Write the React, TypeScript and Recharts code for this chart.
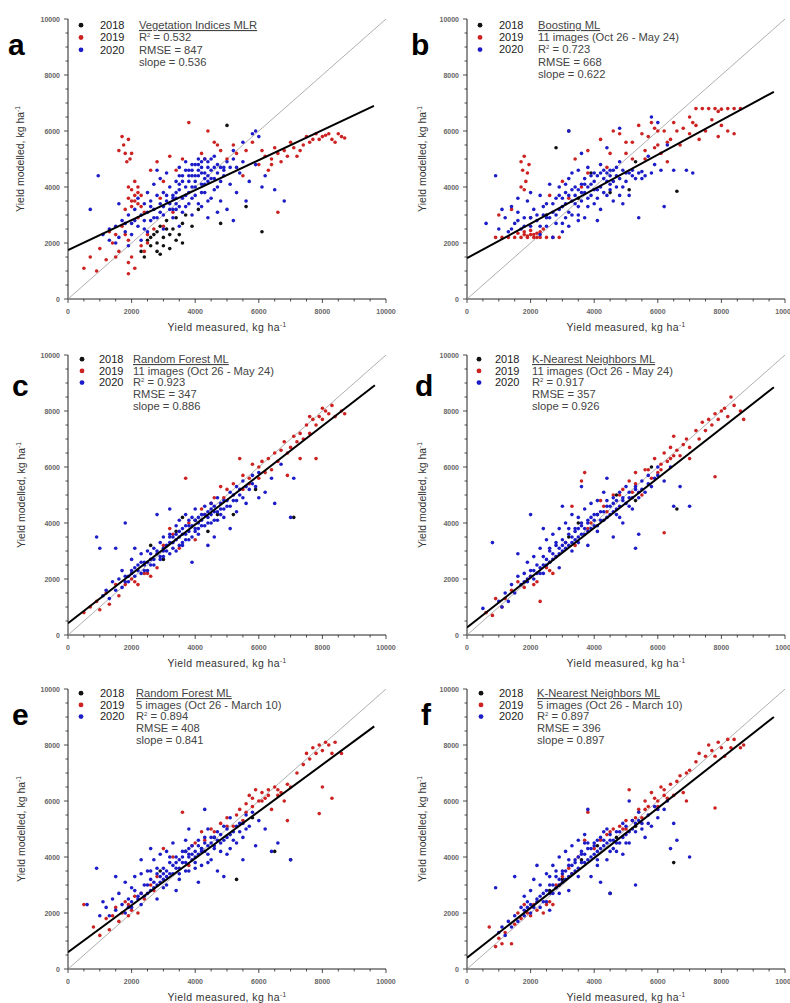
import React from 'react';
import { ScatterChart, Scatter, XAxis, YAxis } from 'recharts';

type P = [number, number];

// ---- panel a: Vegetation Indices MLR ----
const blackA: P[] = [[2300,1700],[2500,2100],[2600,1900],[2700,2300],[2800,2000],[2900,2600],[2900,1600],[3000,2200],[3100,2800],[3200,1800],[3300,2500],[3400,2900],[3500,2300],[3600,2700],[3700,3000],[2400,1500],[3900,2600],[4100,3200],[5000,6200],[6100,2400],[4800,2700],[5600,3300],[2600,2200],[2800,2400],[3000,1900],[3200,2300],[3400,2100],[3600,2000],[2800,1700],[3100,2500]];
const redA: P[] = [[1600,5300],[1700,5800],[1750,5500],[1800,5200],[1900,5700],[1950,5000],[1850,4900],[2000,5200],[1900,3600],[2000,3900],[2100,3500],[2200,4000],[2000,3300],[2300,3700],[2100,4200],[1800,3200],[2400,3100],[2200,2900],[500,1100],[700,1500],[900,1000],[1000,1800],[1200,1400],[1400,2000],[1600,1700],[1800,2300],[1900,1300],[2000,1500],[2100,1100],[1900,900],[2300,1900],[2500,2300],[1300,2400],[1500,2300],[2600,4600],[2800,4900],[3000,4200],[3200,5100],[3400,4600],[3600,5000],[3800,6300],[4400,6000],[4600,5600],[4800,5300],[5000,5000],[5200,5500],[2900,3600],[3300,3100],[6000,4800],[6200,5100],[6400,5000],[6500,5400],[6700,4900],[6800,5300],[7000,5600],[7200,5100],[7400,5500],[7500,5800],[7600,5600],[7800,5900],[7900,5700],[8000,5800],[8100,5850],[8300,5700],[8500,5900],[8700,5750],[6600,3100],[6300,4600],[5500,4400],[5800,5600],[1900,4000],[2100,3700],[2000,3500],[2200,3800],[2300,3300],[2200,3400],[2500,2000],[1700,2600],[1500,1500],[1900,2100],[2400,1700],[2700,2500],[3000,2600],[4200,5200],[4300,5000],[4700,5500],[5300,5200],[5600,5300],[6100,5300],[6400,4800],[6600,5200],[6900,5100],[7100,5400],[7300,5300],[7700,5700],[8200,5900],[8400,5600],[8600,5800]];
const blueA: P[] = [[1100,2300],[1300,2100],[1500,2600],[1600,2200],[1700,2800],[1800,2400],[1900,3000],[2000,2700],[2100,3200],[2200,2600],[2200,3600],[2300,3000],[2400,3400],[2400,2500],[2500,3800],[2500,3100],[2600,2800],[2600,3500],[2700,4100],[2700,3200],[2800,2900],[2800,3700],[2900,3400],[2900,4300],[3000,3000],[3000,3800],[3100,3500],[3100,4500],[3200,3200],[3200,4000],[3300,3700],[3300,2900],[3400,4200],[3400,3400],[3500,3900],[3500,4700],[3600,3100],[3600,4400],[3700,3700],[3700,4900],[3800,4200],[3800,3400],[3900,4600],[3900,4000],[4000,4800],[4000,3700],[4100,4400],[4100,5000],[4200,4100],[4200,4700],[4300,3800],[4300,4500],[4400,4900],[4400,4200],[4500,3600],[4500,4600],[4600,4300],[4600,5100],[4700,4000],[4800,4700],[4800,3500],[4900,4400],[5000,3200],[5000,4900],[5100,4100],[5200,5300],[5300,3800],[5400,4500],[5500,5600],[5600,3500],[5700,4200],[5800,5900],[5900,6000],[6000,5800],[5900,4800],[6200,4400],[6500,3900],[4400,2900],[4700,3100],[3900,3000],[700,3200],[950,4400],[1600,3400],[2800,4600],[6100,4000],[6800,3500],[5200,2800],[3500,2600],[4200,3300],[3000,2500],[1900,1900],[2300,2100],[3300,3600],[3400,3800],[3500,4100],[3600,3600],[3700,4000],[3800,4400],[3900,4800],[4000,4200],[4100,4600],[4200,4900],[4300,4300],[4400,4700],[4500,5000],[4600,4700],[4700,4500],[4800,4200],[4900,4700],[3600,4200],[3700,3300],[3800,3800],[3900,3600],[4000,4000],[4100,3400],[4200,3800],[4300,4100],[4400,3500],[4500,4300],[4600,3900],[3000,3300],[3100,3700],[3200,3400],[3300,3200],[3400,3600],[2900,3100],[2700,2900],[2600,3300],[3500,3300],[4000,4400],[4200,4500],[4400,4400],[3800,4600],[4300,5000],[4100,4800],[3700,4600],[3500,4400],[3900,4400],[4700,4800],[5100,4700],[5300,4700],[5500,4900],[2400,2800],[2500,2400],[2100,2800],[2000,2300],[1800,2700],[1500,2000],[1300,2500],[4900,4600],[5200,5000],[3400,3200]];
const fitA: P[] = [[0,1750],[9620,6900]];

// ---- panel b: Boosting ML, 11 images ----
const blackB: P[] = [[2800,5400],[6600,3850],[3200,6000],[2000,2900],[4500,3800],[3900,4500],[5300,4900],[5100,3900],[2500,3000],[3500,3600]];
const redB: P[] = [[900,2200],[1100,2200],[1300,2200],[1500,2200],[1700,2200],[1900,2250],[2100,2200],[2300,2200],[2500,2200],[2700,2200],[2900,2200],[1800,2400],[2000,2450],[2200,2350],[1600,2350],[2400,2500],[1700,4900],[1750,4600],[1800,5100],[1850,4200],[1700,4000],[1900,4500],[1800,3900],[1950,4800],[1000,3000],[1400,3200],[2600,3700],[3000,4200],[3400,5000],[3800,5300],[4200,5700],[4600,6000],[4800,5900],[5000,5200],[5200,5600],[5400,6200],[5500,5900],[5700,5800],[5900,6100],[6000,5500],[6200,6000],[6400,5700],[6500,6300],[6700,5500],[6800,6100],[7000,5900],[7200,6200],[7300,5700],[7500,6000],[7700,6400],[7900,5800],[8200,6000],[8400,5900],[7000,6500],[6300,4900],[5600,5000],[4400,4700],[3600,4000],[3200,3600],[5900,5400],[7200,6800],[7400,6800],[7600,6800],[7800,6800],[8000,6780],[8200,6800],[8400,6800],[8600,6800],[7900,6700],[2000,2300],[1900,2200],[2100,2300],[2200,2200],[1800,2300],[2300,2400],[3800,4500],[4500,5200],[5000,5600],[5200,5000],[5600,5300],[6000,6000],[6300,5600],[6600,6000],[6100,5200],[5800,6300],[7100,6300],[8000,6200]];
const blueB: P[] = [[600,2700],[900,4400],[1000,2500],[1100,3200],[1200,2900],[1300,2400],[1400,3300],[1500,2700],[1600,3100],[1700,2500],[1800,2900],[1900,3500],[2000,2600],[2100,3200],[2200,2800],[2300,3700],[2400,3000],[2500,2600],[2500,3400],[2600,4100],[2700,3100],[2800,3600],[2800,2700],[2900,4000],[3000,3300],[3100,2900],[3100,3800],[3200,4300],[3300,3500],[3300,3000],[3400,4000],[3500,3300],[3500,4600],[3600,3800],[3700,2900],[3700,4300],[3800,3600],[3800,4700],[3900,4100],[4000,3400],[4000,4500],[4100,3900],[4200,4800],[4200,3200],[4300,4300],[4400,3700],[4500,4600],[4500,4100],[4600,3500],[4700,4400],[4800,4900],[4900,4000],[5000,4500],[5100,3700],[5200,4600],[5300,4300],[5400,4500],[5500,4550],[5600,4400],[5700,5100],[5900,4800],[6000,6300],[5800,6500],[6300,5500],[6500,4600],[6900,4600],[7100,4500],[4800,6100],[4400,5400],[3200,6000],[5400,2900],[6200,3300],[3000,2400],[4100,2800],[2000,3800],[1600,3600],[3600,5200],[4900,3400],[2300,2300],[2700,2200],[2600,2900],[2800,3000],[2900,3200],[3000,3600],[3100,3400],[3200,3100],[3200,3700],[3300,3900],[3400,3400],[3400,3700],[3500,3900],[3500,3000],[3600,3500],[3600,4100],[3700,3800],[3700,4100],[3800,3300],[3800,4000],[3900,3700],[3900,4400],[4000,3900],[4000,4200],[4100,4400],[4100,3600],[4200,4000],[4200,4500],[4300,3800],[4300,4600],[4400,4200],[4400,4500],[4500,3900],[4500,4400],[4600,4200],[4600,4600],[4700,4000],[4700,4700],[4800,4300],[4900,4600],[5000,4200],[5100,4500],[2200,3000],[2300,2600],[2400,3300],[2500,2900],[2700,3400],[2000,2900],[1800,2600],[1600,2800],[1400,2500],[2900,3700],[3100,4100],[3300,4500],[3000,2700],[3200,2600],[3500,2800],[5200,4400],[5500,4300],[5800,4500],[6100,4600],[4800,3700]];
const fitB: P[] = [[0,1460],[9650,7400]];

// ---- panel c: Random Forest ML, 11 images ----
const blackC: P[] = [[3600,4200],[3400,3700],[4400,3700],[4700,4300],[5200,4300],[2600,3200],[4000,4100],[3000,2700],[5900,5200],[7100,4200]];
const redC: P[] = [[500,800],[700,1000],[900,1200],[1000,900],[1200,1500],[1300,1100],[1500,1800],[1600,1400],[1800,1800],[2000,2000],[2200,1800],[2400,2200],[2600,2100],[2800,2400],[3000,3200],[3200,3800],[3500,3100],[3700,5600],[3800,4000],[4000,3400],[4300,4300],[4600,4900],[4800,5300],[5000,5200],[5200,5400],[5400,6300],[5500,5200],[5700,5600],[5800,6100],[6000,5600],[6100,6200],[6300,6300],[6400,5900],[6500,6500],[6600,6200],[6700,6600],[6800,6900],[6900,6500],[7000,6700],[7100,7100],[7200,6900],[7300,7200],[7400,7000],[7500,7500],[7600,7200],[7700,7700],[7800,7500],[7900,7800],[8000,7700],[8100,8000],[8200,7900],[8300,8200],[8400,7800],[8600,8000],[8700,7900],[7800,6300],[7600,7800],[6900,5700],[7300,6300],[8000,8100],[4200,4500],[4900,4900],[5500,5700],[5700,5400],[6000,6000],[6200,5800],[2100,1900],[2500,2200],[3300,3600],[4500,4700]];
const blueC: P[] = [[900,3500],[1000,3100],[1100,1400],[1200,1600],[1300,1300],[1400,1900],[1500,1600],[1600,2000],[1700,1700],[1700,2300],[1800,2100],[1900,1900],[2000,2300],[2000,2700],[2100,2100],[2200,2500],[2300,2200],[2300,2900],[2400,2600],[2500,2300],[2500,3000],[2600,2700],[2700,3100],[2700,2500],[2800,2900],[2900,3300],[2900,2700],[3000,3000],[3000,3500],[3100,3200],[3200,2900],[3200,3600],[3300,3300],[3400,3900],[3400,3000],[3500,3500],[3500,4100],[3600,3300],[3600,3800],[3700,4300],[3700,3600],[3800,3900],[3800,3400],[3900,4200],[4000,3800],[4000,4500],[4100,4000],[4100,3600],[4200,4300],[4300,3900],[4300,4600],[4400,4200],[4500,4700],[4500,4000],[4600,4400],[4700,4100],[4700,4900],[4800,4500],[4900,4800],[4900,4200],[5000,4600],[5100,5100],[5200,4800],[5300,4400],[5300,5300],[5400,5000],[5500,5500],[5600,4700],[5700,5200],[5800,5700],[5900,5300],[6000,5800],[6200,5100],[6400,5600],[6500,4700],[6700,6100],[7000,4200],[7100,5600],[2800,4300],[3200,4500],[4400,3200],[3900,2600],[5100,3800],[1800,4000],[1500,3100],[2100,3100],[6000,4900],[4600,3500],[2000,2200],[2200,2300],[2400,2500],[2500,2600],[2600,2900],[2700,2700],[2800,3000],[2900,2800],[3000,3100],[3100,3000],[3200,3300],[3300,3100],[3400,3400],[3500,3200],[3500,3700],[3600,3600],[3700,3400],[3700,3900],[3800,3700],[3900,3900],[3900,3500],[4000,4100],[4000,3700],[4100,4200],[4200,3900],[4200,4100],[4300,4300],[4400,4000],[4400,4400],[4500,4300],[4600,4100],[4600,4600],[4700,4400],[4800,4700],[4900,4500],[5000,4800],[5100,4600],[5200,5000],[5300,4800],[5400,5200],[5500,4900],[1800,1900],[1900,2100],[2100,2400],[2300,2600],[2600,2500],[3000,2800],[3300,3500],[3600,3200],[4100,3800],[4500,4500],[4800,4300],[3200,3500],[2400,2300],[5600,5300],[5800,5400],[3400,3600],[3800,4100]];
const fitC: P[] = [[0,420],[9650,8920]];

// ---- panel d: K-Nearest Neighbors ML, 11 images ----
const blackD: P[] = [[6600,4500],[3500,4000],[4100,4300],[2600,2600],[4700,5000],[5300,4800],[3200,3500],[5800,6000]];
const redD: P[] = [[600,800],[800,700],[900,1300],[1100,1000],[1200,1300],[1400,1600],[1600,1900],[1800,1700],[2000,2100],[2200,1900],[2300,1200],[2500,2400],[2700,2200],[2800,2800],[3100,3300],[3300,4600],[3600,5500],[3700,5800],[3900,4000],[4200,4800],[4400,4400],[4600,5000],[4900,5200],[5100,5500],[5300,5800],[5500,5000],[5600,5900],[5800,5600],[5900,6300],[6000,5800],[6100,6100],[6200,6500],[6300,6200],[6400,6700],[6500,6400],[6600,6600],[6700,6400],[6800,6800],[6900,7000],[7000,6700],[7200,7300],[7300,7000],[7400,7600],[7500,7300],[7600,7700],[7700,7500],[7800,7900],[7900,7700],[8000,8000],[8100,8100],[8200,7800],[8300,8500],[8400,8200],[8600,8000],[8700,7700],[7800,5650],[6200,3650],[7000,6300],[6500,7100],[5200,5100],[4300,4600],[4800,5000],[5300,5400],[5700,5900],[6100,5900],[6400,6300],[2600,2300],[2100,1800],[3400,3200],[3800,3800]];
const blueD: P[] = [[500,950],[800,3300],[1000,1200],[1100,1000],[1200,1500],[1300,1200],[1400,1800],[1500,1500],[1600,2100],[1600,2900],[1700,1800],[1800,2200],[1900,1900],[1900,2600],[2000,2300],[2100,2000],[2100,2800],[2200,2500],[2300,3100],[2300,2200],[2400,2800],[2500,2500],[2500,3400],[2600,3000],[2700,2700],[2700,3600],[2800,3200],[2900,2900],[2900,3800],[3000,3400],[3100,3100],[3100,4000],[3200,3600],[3300,3300],[3300,4300],[3400,3800],[3500,3500],[3500,4200],[3600,4000],[3700,3600],[3700,4500],[3800,4100],[3900,3800],[3900,4700],[4000,4300],[4100,3900],[4100,4800],[4200,4400],[4300,4100],[4300,5100],[4400,4600],[4500,4300],[4600,4900],[4700,4500],[4800,5100],[4800,4200],[4900,4800],[5000,5300],[5100,4900],[5200,4500],[5300,5200],[5400,4900],[5500,5500],[5600,5100],[5700,5700],[5800,5300],[5900,5600],[6000,6000],[6200,5500],[6400,6000],[6500,4600],[6700,5300],[7000,4600],[2000,4300],[2400,3800],[3000,4600],[3600,5300],[4600,3500],[5300,3100],[5400,3600],[2900,2400],[3800,3200],[4400,5600],[4900,4000],[2000,2100],[2100,2300],[2200,2200],[2300,2400],[2400,2500],[2500,2700],[2600,2600],[2700,2900],[2800,2800],[2900,3100],[3000,3000],[3000,3200],[3100,3300],[3200,3200],[3300,3500],[3400,3400],[3400,3700],[3500,3800],[3600,3600],[3600,3900],[3700,3800],[3800,4000],[3800,3700],[3900,4200],[4000,3900],[4000,4100],[4100,4300],[4200,4100],[4300,4400],[4400,4200],[4500,4600],[4600,4400],[4600,4700],[4700,4800],[4800,4600],[4900,4900],[5000,4700],[5100,5100],[5200,4900],[5300,5300],[5400,5100],[5500,5200],[1800,1900],[1900,2000],[2600,3100],[2800,3300],[3200,3800],[3500,3300],[4100,3700],[4400,4800],[4700,4300],[5100,4600],[3300,3000],[2400,2200],[5700,5400],[6000,5700]];
const fitD: P[] = [[0,270],[9650,8850]];

// ---- panel e: Random Forest ML, 5 images ----
const blackE: P[] = [[5300,3200],[5800,5400],[4200,4300],[3700,4200],[2900,3500],[4600,4700],[7000,3900],[6500,4200]];
const redE: P[] = [[500,2300],[800,1500],[1000,1200],[1200,1800],[1300,1400],[1500,2200],[1600,1700],[1700,2000],[1800,2400],[1900,1900],[2000,2100],[2100,2600],[2200,2000],[2400,2500],[2600,3000],[2800,3300],[3000,4300],[3300,4000],[3600,5600],[3800,3700],[4000,4500],[4300,4600],[4600,4900],[4800,5200],[5000,5400],[5200,5100],[5400,5700],[5500,5300],[5600,5900],[5700,6200],[5800,5800],[5900,6400],[6000,6000],[6100,6300],[6200,6100],[6300,6400],[6400,5700],[6500,6500],[6600,6200],[6700,6300],[6800,6000],[6900,6600],[7000,6500],[7200,7000],[7400,7300],[7500,7700],[7600,7500],[7700,7900],[7800,7700],[7900,8000],[8000,7800],[8100,8100],[8200,8000],[8300,7700],[8400,8100],[8600,7700],[7900,5550],[8300,6100],[8000,6500],[6900,5300],[2300,2700],[2700,2800],[4500,5000],[5000,5100],[5300,5500],[5600,5600],[5800,6100],[6100,6000],[6300,6200],[6600,6400],[3900,4400],[4200,4900],[1400,1900],[1900,2300]];
const blueE: P[] = [[600,2300],[900,3600],[1000,1900],[1100,2400],[1200,2200],[1300,1900],[1400,2500],[1500,2100],[1600,2700],[1700,2300],[1800,2000],[1800,3100],[1900,2500],[2000,2200],[2000,2900],[2100,3300],[2200,2600],[2300,3900],[2300,2300],[2400,3000],[2500,2700],[2500,3500],[2600,3200],[2700,2900],[2700,3900],[2800,3400],[2900,3100],[2900,4100],[3000,3600],[3100,3300],[3100,4200],[3200,3800],[3300,3400],[3300,4500],[3400,4000],[3500,3600],[3500,3200],[3600,4200],[3700,3800],[3700,4600],[3800,4100],[3800,3500],[3900,4400],[4000,4000],[4000,3600],[4100,4600],[4200,4200],[4200,3700],[4300,4500],[4400,4100],[4400,5000],[4500,4700],[4500,3900],[4600,4400],[4700,4900],[4700,3500],[4800,4500],[4900,5100],[5000,4700],[5000,4100],[5100,5400],[5200,4900],[5300,4500],[5400,5200],[5500,4700],[5600,5500],[5700,5100],[5800,5600],[5900,4400],[6000,5300],[6200,5000],[6400,4200],[6600,4500],[7000,3900],[2300,3400],[2600,4300],[3000,2900],[3400,2800],[4100,3100],[4900,3300],[5500,3900],[3800,5000],[4300,5700],[1500,3300],[2800,2500],[2000,2400],[2200,2500],[2300,2700],[2400,2600],[2500,3000],[2600,2800],[2700,3100],[2800,3000],[2900,3300],[3000,3200],[3000,3400],[3100,3500],[3200,3400],[3300,3700],[3400,3600],[3400,3800],[3500,3900],[3600,3800],[3600,4000],[3700,4200],[3800,4000],[3800,4300],[3900,4100],[3900,3900],[4000,4200],[4100,4100],[4100,4400],[4200,4300],[4300,4200],[4300,4700],[4400,4400],[4500,4500],[4600,4300],[4600,4700],[4700,4600],[4800,4800],[4900,4600],[5000,5000],[5100,4800],[5200,4600],[5300,5100],[5400,4900],[5500,5200],[5600,5000],[1900,2200],[2100,2800],[2600,3500],[3100,3000],[3200,4000],[3500,3400],[4000,3800],[4400,3800],[4800,4200],[5100,4300],[3700,3500],[2800,3600]];
const fitE: P[] = [[0,600],[9630,8665]];

// ---- panel f: K-Nearest Neighbors ML, 5 images ----
const blackF: P[] = [[4500,2700],[6500,3800],[4700,4700],[3600,3900],[2600,2800],[5300,5100],[4100,4400],[3000,3200]];
const redF: P[] = [[700,1500],[900,800],[1000,1100],[1100,900],[1200,1300],[1400,900],[1500,1600],[1600,2000],[1700,1800],[1800,2300],[2000,1900],[2200,2100],[2400,2000],[2600,2400],[2700,2300],[2800,3000],[3000,3300],[3200,3600],[3500,4000],[3700,4600],[3800,5600],[4000,4300],[4200,4600],[4400,4800],[4600,5000],[4800,5100],[5000,5000],[5100,6400],[5200,5300],[5400,5700],[5500,5400],[5600,6000],[5700,5800],[5800,6300],[5900,6100],[6000,6000],[6100,6500],[6200,6200],[6300,6100],[6400,6600],[6500,6200],[6600,6700],[6700,6900],[6800,6300],[6900,7000],[7000,7100],[7200,7400],[7300,7700],[7500,7600],[7600,8000],[7700,7800],[7800,7600],[7900,8100],[8000,7900],[8100,7600],[8200,8200],[8300,7900],[8400,8200],[8600,7900],[8700,8000],[7800,5750],[6900,6000],[2500,2300],[2900,3000],[4500,4900],[4900,5000],[5300,5400],[5600,5700],[6000,5800],[6200,6400],[3300,3400],[1900,2000],[2100,2300],[5000,5300]];
const blueF: P[] = [[900,2900],[1000,1300],[1100,1500],[1200,1200],[1300,1700],[1400,1500],[1500,1900],[1500,3300],[1600,1700],[1700,2200],[1800,1900],[1800,2600],[1900,2200],[2000,2000],[2000,2800],[2100,3200],[2200,2500],[2300,2200],[2300,3000],[2400,2700],[2500,3400],[2500,2400],[2600,3000],[2700,3700],[2700,2700],[2800,3300],[2900,3000],[2900,4000],[3000,3500],[3100,3200],[3100,4200],[3200,3700],[3300,3400],[3300,4400],[3400,3900],[3500,3600],[3500,4600],[3600,4100],[3700,3800],[3700,4800],[3800,4300],[3900,4000],[3900,3300],[4000,4500],[4100,4200],[4100,3700],[4200,4700],[4300,4400],[4400,3900],[4400,5000],[4500,4600],[4600,4300],[4700,4900],[4800,4500],[4900,5200],[4900,4100],[5000,4800],[5100,4500],[5200,5300],[5300,4900],[5400,5600],[5500,5200],[5600,4700],[5700,5500],[5800,5100],[5900,5800],[6000,5400],[6200,5700],[6400,4300],[6500,5200],[6600,4600],[7000,4000],[3800,5700],[4200,3100],[5300,3000],[4500,2700],[2200,3700],[3200,2800],[5100,6000],[6300,6000],[2600,2100],[2000,2300],[2100,2200],[2200,2400],[2300,2600],[2400,2400],[2500,2800],[2600,2700],[2700,3000],[2800,2900],[2900,3200],[3000,3100],[3000,3400],[3100,3500],[3200,3300],[3300,3700],[3400,3500],[3400,3800],[3500,4000],[3600,3800],[3600,4200],[3700,4100],[3800,3900],[3800,4500],[3900,4300],[4000,4100],[4000,4400],[4100,4600],[4200,4300],[4300,4600],[4400,4500],[4500,4800],[4500,4200],[4600,4600],[4700,4500],[4800,4900],[4900,4700],[5000,5100],[5100,4900],[5200,5000],[5300,5200],[5400,5300],[5500,5000],[1800,2100],[1900,2400],[2600,3300],[2900,2700],[3200,3900],[3500,3300],[3700,4500],[4100,3900],[4300,4900],[4700,4200],[5000,4500],[5700,5200],[6000,5700],[2800,3500]];
const fitF: P[] = [[0,400],[9650,9000]];

const oneToOne: P[] = [[0,0],[10000,10000]];
const axisTicks = [0,500,1000,1500,2000,2500,3000,3500,4000,4500,5000,5500,6000,6500,7000,7500,8000,8500,9000,9500,10000];

const letters = ['a','b','c','d','e','f'];
const methods = ['Vegetation Indices MLR','Boosting ML','Random Forest ML','K-Nearest Neighbors ML','Random Forest ML','K-Nearest Neighbors ML'];
const imageSets = ['','11 images (Oct 26 - May 24)','11 images (Oct 26 - May 24)','11 images (Oct 26 - May 24)','5 images (Oct 26 - March 10)','5 images (Oct 26 - March 10)'];
const r2Values = ['0.532','0.723','0.923','0.917','0.894','0.897'];
const rmseValues = ['847','668','347','357','408','396'];
const slopeValues = ['0.536','0.622','0.886','0.926','0.841','0.897'];
const years = ['2018','2019','2020'];
const yearColors = ['#111111','#cc2222','#1c1cc8'];

const FONT = '"Liberation Sans", Arial, sans-serif';
const toPts = (arr: P[]) => arr.map(([x, y]) => ({ x, y }));

// plot-area positions and text placement per panel
const layout = [
  { left: 68, top: 19, letterX: 8, letterY: 55, dotX: 81, textX: 100, annX: 139, base: 29, gap: 12.3, yTitleX: 20 },
  { left: 467, top: 19, letterX: 411, letterY: 55, dotX: 480, textX: 499, annX: 538, base: 29, gap: 12.2, yTitleX: 422 },
  { left: 68, top: 355, letterX: 12, letterY: 396, dotX: 82, textX: 99, annX: 133, base: 363, gap: 11.7, yTitleX: 21 },
  { left: 467, top: 355, letterX: 415, letterY: 396, dotX: 479, textX: 495, annX: 532, base: 363, gap: 11.7, yTitleX: 422 },
  { left: 68, top: 689, letterX: 12, letterY: 725, dotX: 81, textX: 100, annX: 136, base: 697, gap: 11.7, yTitleX: 21 },
  { left: 467, top: 689, letterX: 421, letterY: 725, dotX: 481, textX: 499, annX: 537, base: 697, gap: 11.7, yTitleX: 422 },
];

const series = [
  [blackA, redA, blueA, fitA],
  [blackB, redB, blueB, fitB],
  [blackC, redC, blueC, fitC],
  [blackD, redD, blueD, fitD],
  [blackE, redE, blueE, fitE],
  [blackF, redF, blueF, fitF],
];

const PLOT_W = 318;
const PLOT_H = 280;

const XTick = (props: any) => {
  const { x, y, payload } = props;
  const major = payload.value % 2000 === 0;
  return (
    <g>
      <line x1={x} y1={y} x2={x} y2={y + (major ? 4 : 2.5)} stroke="#222" strokeWidth={0.8} />
      {major && (
        <text x={x} y={y + 15} textAnchor="middle" fontSize={7} fontWeight="bold" fill="#666" fontFamily={FONT}>
          {payload.value}
        </text>
      )}
    </g>
  );
};

const YTick = (props: any) => {
  const { x, y, payload } = props;
  const major = payload.value % 2000 === 0;
  return (
    <g>
      <line x1={x} y1={y} x2={x - (major ? 4 : 2.5)} y2={y} stroke="#222" strokeWidth={0.8} />
      {major && (
        <text x={x - 8} y={y + 2.5} textAnchor="end" fontSize={7} fontWeight="bold" fill="#666" fontFamily={FONT}>
          {payload.value}
        </text>
      )}
    </g>
  );
};

const dot = (color: string) => (p: any) => <circle cx={p.cx} cy={p.cy} r={1.8} fill={color} />;
const noDot = () => <g />;

const Panel = ({ idx }: { idx: number }) => {
  const L = layout[idx];
  const [black, red, blue, fit] = series[idx];
  return (
    <div style={{ position: 'absolute', left: L.left - 40, top: L.top - 10 }}>
      <ScatterChart width={PLOT_W + 50} height={PLOT_H + 40} margin={{ top: 10, right: 10, left: 4, bottom: 5 }}>
        <XAxis type="number" dataKey="x" domain={[0, 10000]} ticks={axisTicks} interval={0} tick={<XTick />}
          tickSize={0} tickMargin={0} height={25} stroke="#222" allowDataOverflow />
        <YAxis type="number" dataKey="y" domain={[0, 10000]} ticks={axisTicks} interval={0} tick={<YTick />}
          tickSize={0} tickMargin={0} width={36} stroke="#222" allowDataOverflow />
        <Scatter data={toPts(oneToOne)} line={{ stroke: '#9a9a9a', strokeWidth: 0.8 }} shape={noDot} isAnimationActive={false} />
        <Scatter data={toPts(black)} shape={dot(yearColors[0])} isAnimationActive={false} />
        <Scatter data={toPts(red)} shape={dot(yearColors[1])} isAnimationActive={false} />
        <Scatter data={toPts(blue)} shape={dot(yearColors[2])} isAnimationActive={false} />
        <Scatter data={toPts(fit)} line={{ stroke: '#000', strokeWidth: 2 }} shape={noDot} isAnimationActive={false} />
      </ScatterChart>
    </div>
  );
};

const PanelText = ({ idx }: { idx: number }) => {
  const L = layout[idx];
  const lines: React.ReactNode[] = [];
  if (imageSets[idx]) lines.push(imageSets[idx]);
  lines.push(<>R<tspan dy={-4} fontSize={6}>2</tspan><tspan dy={4}>{` = ${r2Values[idx]}`}</tspan></>);
  lines.push(`RMSE = ${rmseValues[idx]}`);
  lines.push(`slope = ${slopeValues[idx]}`);
  const xMid = L.left + PLOT_W / 2;
  const yMid = L.top + PLOT_H / 2;
  return (
    <g fontFamily={FONT}>
      <text x={L.letterX} y={L.letterY} fontSize={30} fontWeight="bold" fill="#000">{letters[idx]}</text>
      {years.map((yr, i) => (
        <g key={yr}>
          <circle cx={L.dotX} cy={L.base + i * L.gap - 3.8} r={2.4} fill={yearColors[i]} />
          <text x={L.textX} y={L.base + i * L.gap} fontSize={11} fill="#222">{yr}</text>
        </g>
      ))}
      <text x={L.annX} y={L.base} fontSize={11.2} fill="#444" textDecoration="underline">{methods[idx]}</text>
      {lines.map((ln, i) => (
        <text key={i} x={L.annX} y={L.base + (i + 1) * L.gap} fontSize={11.2} fill="#444">{ln}</text>
      ))}
      <text x={xMid} y={L.top + PLOT_H + 32} textAnchor="middle" fontSize={10.5} fill="#333" letterSpacing={0.4}>
        Yield measured, kg ha<tspan dy={-4} fontSize={6.5}>-1</tspan>
      </text>
      <text x={L.yTitleX} y={yMid} textAnchor="middle" fontSize={10.5} fill="#333" transform={`rotate(-90 ${L.yTitleX} ${yMid})`} dy={3.5}>
        Yield modelled, kg ha<tspan dy={-4} fontSize={6.5}>-1</tspan>
      </text>
    </g>
  );
};

export default function App() {
  return (
    <div style={{ position: 'absolute', left: 0, top: 0, width: 790, height: 1003, background: '#fff', overflow: 'hidden' }}>
      {layout.map((_, i) => <Panel key={i} idx={i} />)}
      <svg width={790} height={1003} style={{ position: 'absolute', left: 0, top: 0, pointerEvents: 'none' }}>
        {layout.map((_, i) => <PanelText key={i} idx={i} />)}
      </svg>
    </div>
  );
}
